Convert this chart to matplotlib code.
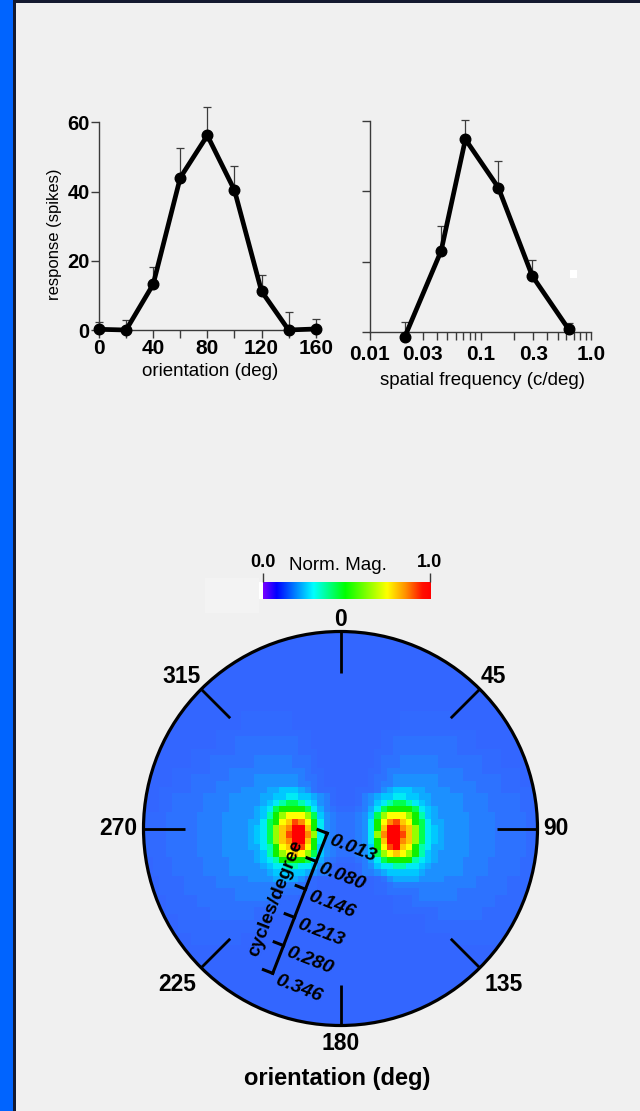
import matplotlib
matplotlib.use("Agg")
import matplotlib.pyplot as plt
import numpy as np
from matplotlib.colors import LinearSegmentedColormap, ListedColormap
from matplotlib.patches import Circle, Rectangle
from matplotlib.ticker import FixedLocator, NullFormatter

W, H = 640, 1111
BG = "#f0f0f0"; STRIP = "#0064ff"; FRAME = "#141a30"; SPINE = "#3a3a3a"; ERR = "#3c3c3c"

plt.rcParams.update({
    "font.family": ["Liberation Sans", "DejaVu Sans"],
    "figure.facecolor": BG, "savefig.facecolor": BG, "axes.facecolor": "none",
    "axes.edgecolor": SPINE, "axes.linewidth": 1.0,
    "xtick.color": SPINE, "ytick.color": SPINE,
    "xtick.labelcolor": "black", "ytick.labelcolor": "black",
})

# orientation tuning (top left)
ORI_DEG = [0, 20, 40, 60, 80, 100, 120, 140, 160]
ORI_RESP = [0.2, 0.0, 13.2, 44.0, 56.2, 40.4, 11.2, 0.0, 0.3]
ORI_UPPER = [2.4, 2.9, 18.3, 52.6, 64.4, 47.5, 15.9, 5.1, 3.1]
ORI_TICKS = [0, 20, 40, 60, 80, 100, 120, 140, 160]
ORI_TICK_LABELS = ["0", "", "40", "", "80", "", "120", "", "160"]
RESP_TICKS = [0, 20, 40, 60]
RESP_TICK_LABELS = ["0", "20", "40", "60"]

# spatial frequency tuning (top right)
SF_CPD = [0.0207, 0.044, 0.073, 0.145, 0.294, 0.628]
SF_RESP = [-1.2, 23.1, 54.8, 41.1, 16.0, 0.85]
SF_UPPER = [2.8, 30.3, 60.2, 48.7, 20.5, 2.6]
SF_TICKS = [0.01, 0.03, 0.1, 0.3, 1.0]
SF_TICK_LABELS = ["0.01", "0.03", "0.1", "0.3", "1.0"]
SF_MINOR = [0.02, 0.04, 0.05, 0.06, 0.07, 0.08, 0.09, 0.2, 0.4, 0.5, 0.6, 0.7, 0.8, 0.9]

# colour bar
CBAR_TICKS = [0.0, 1.0]
CBAR_LABELS = ["0.0", "1.0"]
CMAP_STOPS = [0.0, 0.08, 0.30, 0.49, 0.74, 0.85, 0.95, 1.0]
CMAP_COLORS = ["#7800ff", "#0000ff", "#00ffff", "#00ff00", "#ffff00", "#ff9000", "#ff1000", "#ff0000"]

# polar map: orientation marks and radial spatial-frequency scale
ORI_MARKS = [0, 45, 90, 135, 180, 225, 270, 315]
ORI_MARK_LABELS = ["0", "45", "90", "135", "180", "225", "270", "315"]
SF_SCALE = [0.013, 0.080, 0.146, 0.213, 0.280, 0.346]

# magnitude map, one character per cell (levels below), rows top to bottom
LEVEL_CODES = "0123456789abcdefg"
LEVEL_COLORS = ["#3366ff", "#316aff", "#2d72ff", "#267eff", "#1c90ff", "#0eaaff",
                "#00c8ff", "#00ebf5", "#00ffaa", "#00ff50", "#10f000", "#96ff00",
                "#ffff00", "#ffc800", "#ff8c00", "#ff4600", "#ff0000"]
MAP_SIZE = 63
MAP_ROW0 = 13
MAP_ROWS = [
    "0" * 16 + "11111111" + "0" * 17 + "11111111" + "0" * 14,
    "0" * 16 + "11111111" + "0" * 17 + "11111111" + "0" * 14,
    "0" * 16 + "11111111" + "0" * 17 + "11111111" + "0" * 14,
    "0" * 12 + "1" * 15 + "0" * 11 + "1" * 15 + "0" * 10,
    "0" * 12 + "111" + "2" * 10 + "11" + "0" * 11 + "11" + "2" * 10 + "111" + "0" * 10,
    "0" * 12 + "111" + "2" * 10 + "11" + "0" * 11 + "11" + "2" * 10 + "111" + "0" * 10,
    "0" * 8 + "1111111" + "2" * 10 + "111" + "0" * 9 + "111" + "2" * 10 + "1111111" + "000000",
    "0" * 8 + "111" + "2222222" + "333333" + "222" + "1" + "0" * 9 + "1" + "222" + "333333" + "2222222" + "111" + "000000",
    "0" * 8 + "111" + "2222222" + "333333" + "222" + "1" + "0" * 9 + "1" + "222" + "333333" + "2222222" + "111" + "000000",
    "00000" + "111111" + "222" + "3" * 12 + "2" + "11" + "0000000" + "11" + "2" + "3" * 12 + "222" + "111111" + "000",
    "00000" + "111" + "222222" + "3333" + "4444444" + "3" + "22" + "1" + "0000000" + "1" + "22" + "3" + "4444444" + "3333" + "222222" + "111" + "000",
    "00000" + "111" + "2222" + "333333" + "4444444" + "33" + "2" + "1" + "0000000" + "1" + "2" + "33" + "4444444" + "333333" + "2222" + "111" + "000",
    "000" + "11111" + "2222" + "3333" + "4444" + "55" + "666" + "5" + "4" + "2" + "111" + "000" + "111" + "2" + "4" + "5" + "666" + "55" + "4444" + "3333" + "2222" + "11111" + "0",
    "000" + "11" + "22222" + "3333" + "444" + "4455667766543" + "1" + "000" + "1" + "3456677665544" + "444" + "3333" + "22222" + "11" + "0",
    "000" + "11" + "22222" + "3333" + "444" + "4456789987643" + "1" + "000" + "1" + "3467899876544" + "444" + "3333" + "22222" + "11" + "0",
    "000" + "11" + "22222" + "3333" + "444" + "45679aaaa9753" + "2" + "111" + "2" + "3579aaaa97654" + "444" + "3333" + "22222" + "11" + "0",
    "1111" + "22222" + "3333" + "4444" + "4568abcccb964" + "322" + "23" + "469bcccba8654" + "4444" + "3333" + "22222" + "11",
    "1111" + "22222" + "3333" + "4444" + "5579acdfeca74" + "322" + "23" + "47acefdca9755" + "4444" + "3333" + "22222" + "11",
    "1111" + "22222" + "3333" + "4444" + "5679bdeggda74" + "322" + "23" + "47adggedb9765" + "4444" + "3333" + "22222" + "11",
    "1111" + "22222" + "3333" + "4444" + "5679bdfggeb74" + "322" + "23" + "47beggfdb9765" + "4444" + "3333" + "22222" + "11",
    "1111" + "22222" + "3333" + "4444" + "5679bdeggda74" + "322" + "23" + "47adggedb9765" + "4444" + "3333" + "22222" + "11",
    "1111" + "22222" + "3333" + "4444" + "5578acdgfca64" + "322" + "23" + "46acfgdca8755" + "4444" + "3333" + "22222" + "11",
    "1111" + "22222" + "3333" + "4444" + "4568abcdcb964" + "322" + "23" + "469bcdcba8654" + "4444" + "3333" + "22222" + "11",
    "00" + "111" + "22222" + "3333" + "444" + "45678aaaa9753" + "211" + "12" + "3579aaaa87654" + "444" + "3333" + "22222" + "111",
    "00" + "111" + "22222" + "3333" + "444" + "4456778877643" + "100" + "01" + "3467788776544" + "444" + "3333" + "22222" + "111",
    "00" + "111" + "22222" + "3333" + "444" + "4445666665433" + "100" + "01" + "3345666665444" + "444" + "3333" + "22222" + "111",
    "000" + "1111" + "22222" + "33333" + "4444" + "5555" + "4" + "2" + "1" + "0" * 9 + "1" + "2" + "4" + "5555" + "4444" + "33333" + "22222" + "1111" + "0",
    "000" + "1111" + "22222" + "3" * 13 + "2" + "11" + "0" * 9 + "11" + "2" + "3" * 13 + "22222" + "1111" + "0",
    "000" + "1111" + "22222222" + "333333" + "22222" + "11" + "0" * 9 + "11" + "22222" + "333333" + "22222222" + "1111" + "0",
    "0000" + "11111" + "222222" + "333333" + "2" + "111" + "0" * 15 + "111" + "2" + "333333" + "222222" + "11111" + "00",
    "0000" + "11111" + "2" * 13 + "111" + "0" * 15 + "111" + "2" * 13 + "11111" + "00",
    "0000" + "1111111" + "2222222" + "1111111" + "0" * 15 + "1111111" + "2222222" + "1111111" + "00",
    "000000" + "11111" + "2222222" + "11" + "0" * 25 + "11" + "2222222" + "11111" + "0000",
    "000000" + "1" * 14 + "0" * 25 + "1" * 14 + "0000",
    "000000" + "1" * 14 + "0" * 25 + "1" * 14 + "0000",
    "0" * 8 + "1" * 8 + "0" * 33 + "1" * 8 + "000000",
    "0" * 8 + "1" * 8 + "0" * 33 + "1" * 8 + "000000",
]


def px_axes(fig, x0, y0, x1, y1):
    return fig.add_axes([x0 / W, 1 - y1 / H, (x1 - x0) / W, (y1 - y0) / H])


def tuning(ax, x, y, upper):
    lo = [0.0] * len(y)
    hi = [u - v for u, v in zip(upper, y)]
    eb = ax.errorbar(x, y, yerr=[lo, hi], fmt="none", ecolor=ERR, elinewidth=0.9,
                     capsize=3.0, capthick=0.9, zorder=2)
    for art in list(eb[1]) + list(eb[2]):
        art.set_clip_on(False)
    ax.plot(x, y, "-o", color="black", lw=3.4, ms=7.6, clip_on=False, zorder=3)
    ax.spines[["top", "right"]].set_visible(False)
    ax.set_ylim(0, 60)
    ax.tick_params(which="both", direction="out", length=5.8, width=1.0)


fig = plt.figure(figsize=(W / 100, H / 100), dpi=100)

# frame: blue strip at left, dark rule at top
fig.add_artist(Rectangle((0, 0), 13 / W, 1, transform=fig.transFigure, fc=STRIP, ec="none"))
fig.add_artist(Rectangle((13 / W, 0), 2.5 / W, 1, transform=fig.transFigure, fc=FRAME, ec="none"))
fig.add_artist(Rectangle((13 / W, 1 - 2.5 / H), 1, 2.5 / H, transform=fig.transFigure, fc=FRAME, ec="none"))

# --- orientation tuning
ax1 = px_axes(fig, 99, 122.3, 315.7, 330)
tuning(ax1, ORI_DEG, ORI_RESP, ORI_UPPER)
ax1.set_xlim(0, 160)
ax1.set_xticks(ORI_TICKS, ORI_TICK_LABELS, fontweight="bold", fontsize=15)
ax1.set_yticks(RESP_TICKS, RESP_TICK_LABELS, fontweight="bold", fontsize=14.5)
ax1.tick_params(axis="both", pad=0.8)
ax1.set_xlabel("orientation (deg)", fontsize=13.5)
ax1.xaxis.set_label_coords(0.514, -0.160)
ax1.set_ylabel("response (spikes)", fontsize=12)
ax1.yaxis.set_label_coords(-0.171, 0.46)

# --- spatial frequency tuning
ax2 = px_axes(fig, 370, 121, 591, 332.3)
ax2.set_xscale("log")
tuning(ax2, SF_CPD, SF_RESP, SF_UPPER)
ax2.set_xlim(0.01, 1.0)
ax2.xaxis.set_major_locator(FixedLocator(SF_TICKS))
ax2.xaxis.set_minor_locator(FixedLocator(SF_MINOR))
ax2.xaxis.set_minor_formatter(NullFormatter())
ax2.set_xticklabels(SF_TICK_LABELS, fontweight="bold", fontsize=15)
ax2.set_yticks(RESP_TICKS, [""] * len(RESP_TICKS))
ax2.tick_params(axis="x", which="both", pad=3.0)
ax2.set_xlabel("spatial frequency (c/deg)", fontsize=13.5)
ax2.xaxis.set_label_coords(0.511, -0.186)
fig.add_artist(Rectangle((570 / W, 1 - 277.7 / H), 7.3 / W, 7.4 / H,
                         transform=fig.transFigure, fc="white", ec="none"))

# --- colour bar
rainbow = LinearSegmentedColormap.from_list("rainbow_hue", list(zip(CMAP_STOPS, CMAP_COLORS)))
fig.add_artist(Rectangle((205 / W, 1 - 613 / H), 54 / W, 35 / H,
                         transform=fig.transFigure, fc="#f3f3f3", ec="none"))
ax_cb = px_axes(fig, 259, 582.3, 430, 599)
ax_cb.set_facecolor("white")
ax_cb.imshow(np.linspace(0, 1, 256)[None, :], aspect="auto", cmap=rainbow, extent=(0, 1, 0, 1))
ax_cb.set_xlim(-0.022, 1.0)
ax_cb.set_ylim(0, 1)
ax_cb.xaxis.tick_top()
ax_cb.set_xticks(CBAR_TICKS, CBAR_LABELS, fontweight="bold", fontsize=13)
ax_cb.set_yticks([])
ax_cb.tick_params(axis="x", length=6.5, width=1.0, pad=1.5)
for s in ax_cb.spines.values():
    s.set_visible(False)
fig.text(338 / W, 1 - 565 / H, "Norm. Mag.", fontsize=13.5, ha="center", va="center")

# --- polar magnitude map
R = 197.0
CX, CY = 340.5, 828.5
ax_p = px_axes(fig, CX - R, CY - R, CX + R, CY + R)
ax_p.axis("off")

grid = np.zeros((MAP_SIZE, MAP_SIZE), dtype=int)
for i, row in enumerate(MAP_ROWS):
    row = row.ljust(MAP_SIZE, "0")[:MAP_SIZE]
    grid[MAP_ROW0 + i] = [LEVEL_CODES.index(ch) for ch in row]

CELL = 6.33
MAP_X0, MAP_Y0 = -200.8, 199.1
im = ax_p.imshow(grid, cmap=ListedColormap(LEVEL_COLORS), vmin=-0.5,
                 vmax=len(LEVEL_COLORS) - 0.5, interpolation="nearest", origin="upper",
                 extent=(MAP_X0, MAP_X0 + MAP_SIZE * CELL, MAP_Y0 - MAP_SIZE * CELL, MAP_Y0),
                 zorder=1)
im.set_clip_path(Circle((0, 0), R, transform=ax_p.transData))
ax_p.set_xlim(-R, R)
ax_p.set_ylim(-R, R)
ax_p.add_patch(Circle((0, 0), R, fill=False, ec="black", lw=2.3, clip_on=False, zorder=4))

for ang, lab in zip(ORI_MARKS, ORI_MARK_LABELS):
    t = np.deg2rad(ang)
    dx, dy = np.sin(t), np.cos(t)
    ax_p.plot([R * dx, (R - 41) * dx], [R * dy, (R - 41) * dy], color="black",
              lw=2.0, solid_capstyle="butt", clip_on=False, zorder=4)
    ha = "left" if dx > 0.3 else ("right" if dx < -0.3 else "center")
    va = "bottom" if dy > 0.3 else ("top" if dy < -0.3 else "center")
    rr = R + (1 if dy > 0.3 else (7 if dy < -0.3 else 6))
    ax_p.text(rr * dx, rr * dy, lab, ha=ha, va=va, fontsize=16.5, fontweight="bold",
              clip_on=False, zorder=5)

# spatial-frequency scale bar
sb0 = np.array([-13.2, -4.8])
sb1 = np.array([-67.8, -144.8])
u = (sb1 - sb0) / np.hypot(*(sb1 - sb0))
left = np.array([u[1], -u[0]])
right = -left


def sb_point(v):
    f = (v - SF_SCALE[0]) / (SF_SCALE[-1] - SF_SCALE[0])
    return sb0 + f * (sb1 - sb0)


ax_p.plot([sb0[0], sb1[0]], [sb0[1], sb1[1]], color="black", lw=2.2,
          solid_capstyle="projecting", zorder=5)
rot = np.degrees(np.arctan2(right[1], right[0]))
for v in SF_SCALE:
    p = sb_point(v)
    q = p + 10 * left
    ax_p.plot([p[0], q[0]], [p[1], q[1]], color="black", lw=2.2,
              solid_capstyle="projecting", zorder=5)
    a = p + 5 * u + 5 * right
    ax_p.text(a[0], a[1], f"{v:.3f}", rotation=rot, rotation_mode="anchor", ha="left",
              va="center", fontsize=14, fontweight="bold", fontstyle="italic", zorder=6)
mid = (sb0 + sb1) / 2 + 24 * left + 4 * u
ax_p.text(mid[0], mid[1], "cycles/degree", rotation=np.degrees(np.arctan2(-u[1], -u[0])),
          rotation_mode="anchor", ha="center", va="center", fontsize=13.5,
          fontweight="bold", zorder=6)

fig.text(337 / W, 1 - 1078 / H, "orientation (deg)", fontsize=17, fontweight="bold",
         ha="center", va="center")

fig.savefig("out.png", dpi=100)
